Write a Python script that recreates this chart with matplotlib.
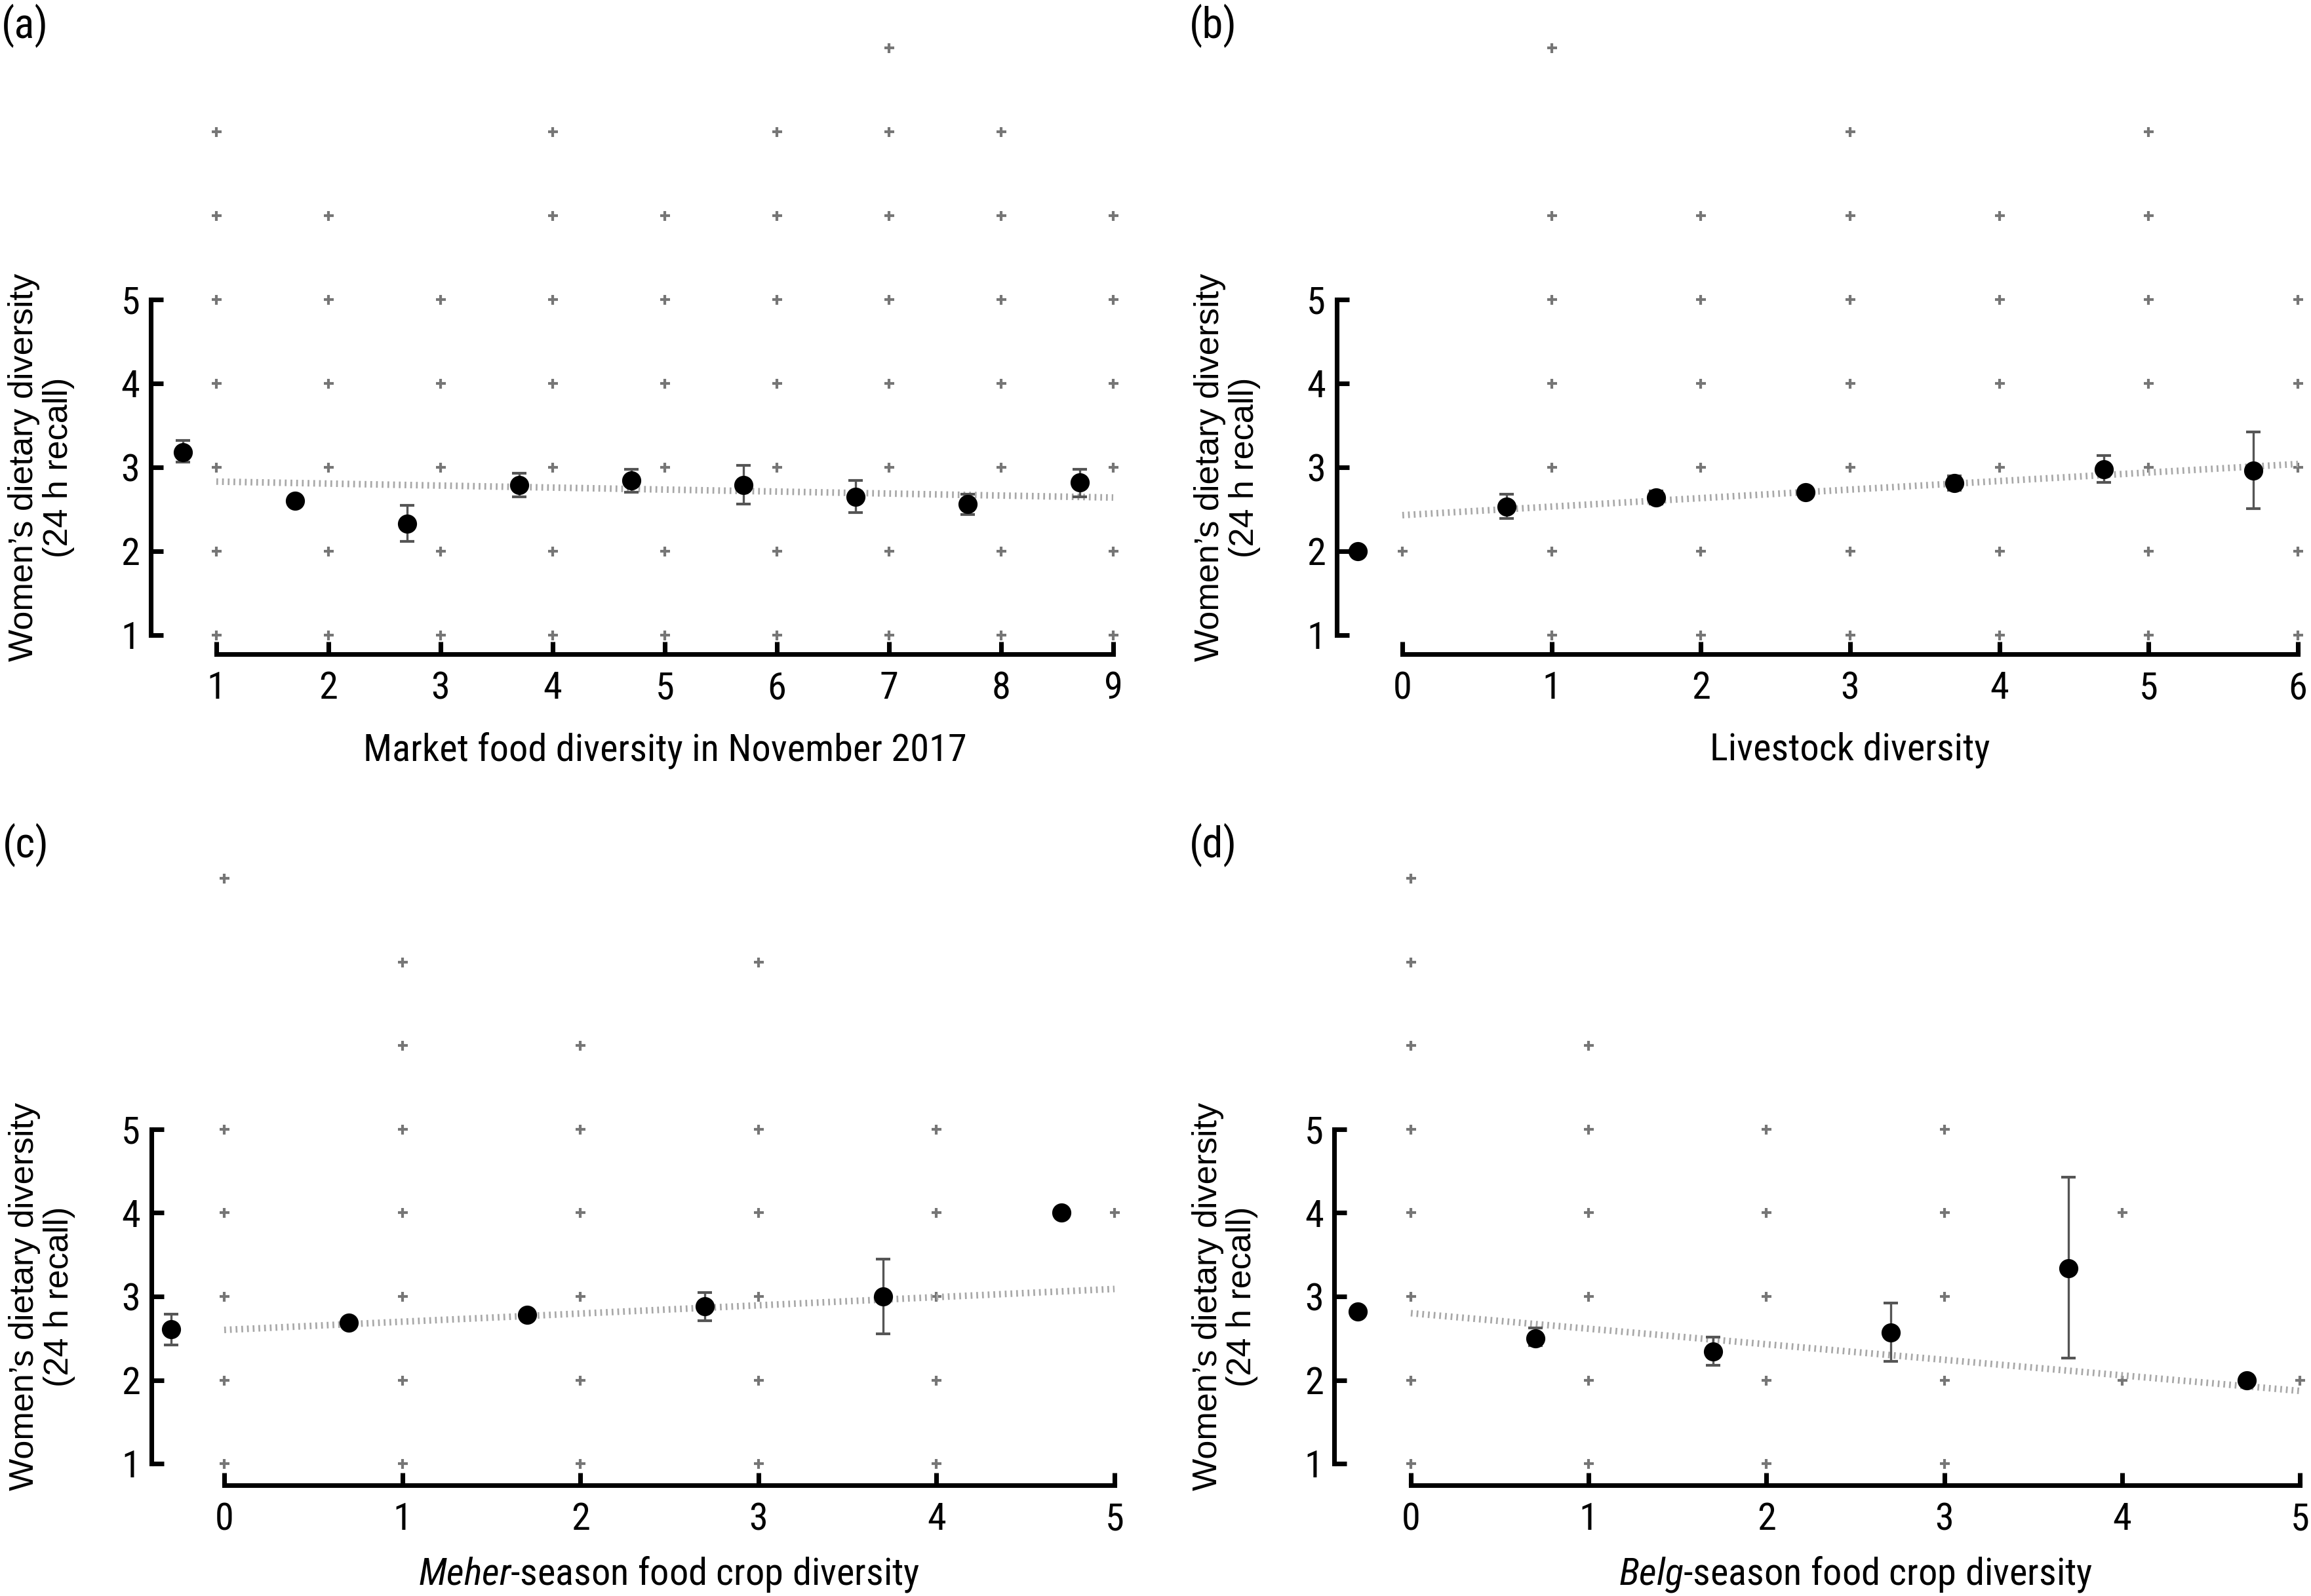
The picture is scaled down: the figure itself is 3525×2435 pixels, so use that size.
import matplotlib
matplotlib.use("Agg")
import matplotlib.pyplot as plt

# =============================================================================
# data
# =============================================================================
# (a) market food diversity
A_CATS = [1, 2, 3, 4, 5, 6, 7, 8, 9]
A_MEAN = [3.18, 2.60, 2.33, 2.79, 2.84, 2.79, 2.65, 2.56, 2.82]
A_LOW = [3.06, 2.55, 2.12, 2.65, 2.70, 2.56, 2.46, 2.44, 2.65]
A_HIGH = [3.32, 2.65, 2.55, 2.93, 2.98, 3.02, 2.84, 2.68, 2.98]
A_FIT = [2.83, 2.64]
A_OBS = {1: [1, 2, 3, 4, 5, 6, 7], 2: [1, 2, 3, 4, 5, 6], 3: [1, 2, 3, 4, 5],
         4: [1, 2, 3, 4, 5, 6, 7], 5: [1, 2, 3, 4, 5, 6],
         6: [1, 2, 3, 4, 5, 6, 7], 7: [1, 2, 3, 4, 5, 6, 7, 8],
         8: [1, 2, 3, 4, 5, 6, 7], 9: [1, 2, 3, 4, 5, 6]}

# (b) livestock diversity
B_CATS = [0, 1, 2, 3, 4, 5, 6]
B_MEAN = [2.00, 2.53, 2.64, 2.70, 2.81, 2.98, 2.96]
B_LOW = [2.00, 2.39, 2.56, 2.64, 2.73, 2.82, 2.51]
B_HIGH = [2.00, 2.68, 2.72, 2.76, 2.90, 3.14, 3.42]
B_FIT = [2.43, 3.04]
B_OBS = {0: [2], 1: [1, 2, 3, 4, 5, 6, 8], 2: [1, 2, 3, 4, 5, 6],
         3: [1, 2, 3, 4, 5, 6, 7], 4: [1, 2, 3, 4, 5, 6],
         5: [1, 2, 3, 4, 5, 6, 7], 6: [1, 2, 3, 4, 5]}

# (c) meher-season food crop diversity
C_CATS = [0, 1, 2, 3, 4, 5]
C_MEAN = [2.61, 2.69, 2.78, 2.88, 3.00, 4.00]
C_LOW = [2.42, 2.66, 2.73, 2.71, 2.55, 4.00]
C_HIGH = [2.79, 2.72, 2.83, 3.05, 3.45, 4.00]
C_FIT = [2.60, 3.09]
C_OBS = {0: [1, 2, 3, 4, 5, 8], 1: [1, 2, 3, 4, 5, 6, 7],
         2: [1, 2, 3, 4, 5, 6], 3: [1, 2, 3, 4, 5, 7],
         4: [1, 2, 3, 4, 5], 5: [4]}

# (d) belg-season food crop diversity
D_CATS = [0, 1, 2, 3, 4, 5]
D_MEAN = [2.82, 2.50, 2.34, 2.57, 3.34, 2.00]
D_LOW = [2.78, 2.41, 2.18, 2.22, 2.26, 2.00]
D_HIGH = [2.86, 2.62, 2.51, 2.92, 4.43, 2.00]
D_FIT = [2.80, 1.87]
D_OBS = {0: [1, 2, 3, 4, 5, 6, 7, 8], 1: [1, 2, 3, 4, 5, 6],
         2: [1, 2, 3, 4, 5], 3: [1, 2, 3, 4, 5], 4: [2, 4], 5: [2]}

Y_TICKS = [1, 2, 3, 4, 5]
Y_LABEL = "Women\u2019s dietary diversity\n(24 h recall)"
X_LABELS = ["Market food diversity in November 2017",
            "Livestock diversity",
            r"$\mathit{Meher}$-season food crop diversity",
            r"$\mathit{Belg}$-season food crop diversity"]
PANEL_TAGS = ["(a)", "(b)", "(c)", "(d)"]

# =============================================================================
# layout / style
# =============================================================================
W, H, DPI = 3525, 2435, 300
MEAN_SHIFT = -0.3
NARROW = ["Roboto Condensed", "Liberation Sans", "DejaVu Sans"]
REGULAR = ["Liberation Sans", "DejaVu Sans"]

plt.rcParams["font.family"] = NARROW
plt.rcParams["mathtext.fontset"] = "custom"
plt.rcParams["mathtext.rm"] = "Roboto Condensed"
plt.rcParams["mathtext.it"] = "Roboto Condensed:italic"

# pixel anchors: (value, px) for two x ticks, px of y=1 and y=5, limits
LAYOUT = [
    dict(xa=(1, 330), xb=(9, 1698), y1=969, y5=457, xlim=(0.415, 9.1), ylim=(0.77, 8.25),
         tag=(2, 6), xlab=-118),
    dict(xa=(0, 2139), xb=(6, 3505), y1=969, y5=457, xlim=(-0.44, 6.08), ylim=(0.77, 8.25),
         tag=(1814, 6), xlab=-118),
    dict(xa=(0, 342), xb=(5, 1700), y1=2233, y5=1723, xlim=(-0.41, 5.08), ylim=(0.74, 8.25),
         tag=(4, 1256), xlab=-106),
    dict(xa=(0, 2152), xb=(5, 3508), y1=2233, y5=1723, xlim=(-0.43, 5.06), ylim=(0.74, 8.25),
         tag=(1814, 1256), xlab=-106),
]


def axes_rect(lay):
    """figure rect so that data anchors land on the reference pixels"""
    (va, pa), (vb, pb) = lay["xa"], lay["xb"]
    sx = (pb - pa) / (vb - va)
    sy = (lay["y1"] - lay["y5"]) / 4.0
    left = pa + (lay["xlim"][0] - va) * sx
    right = pa + (lay["xlim"][1] - va) * sx
    bottom = lay["y1"] - (lay["ylim"][0] - 1) * sy
    top = lay["y1"] - (lay["ylim"][1] - 1) * sy
    return [left / W, 1 - bottom / H, (right - left) / W, (bottom - top) / H], right - left, bottom - top


def draw_panel(fig, lay, cats, mean, low, high, fit, obs, xlabel, tag):
    rect, wpx, hpx = axes_rect(lay)
    ax = fig.add_axes(rect)
    ax.set_xlim(*lay["xlim"])
    ax.set_ylim(*lay["ylim"])

    # raw observations as small grey pluses
    for x, ys in obs.items():
        ax.plot([x] * len(ys), ys, ls="none", marker="+", ms=3.6, mew=1.0,
                color="#767676", zorder=1, clip_on=False)

    # fitted line
    x0, x1 = cats[0], cats[-1]
    ax.plot([x0, x1], fit, color="#a8a8a8", lw=2.4, dashes=(0.27, 0.6),
            solid_capstyle="butt", dash_capstyle="butt", zorder=2)

    # means with error bars
    xs = [c + MEAN_SHIFT for c in cats]
    for x, m, lo, hi in zip(xs, mean, low, high):
        if hi - lo > 0.001:
            ax.errorbar([x], [m], yerr=[[m - lo], [hi - m]], fmt="none",
                        ecolor="#555555", elinewidth=0.8, capsize=2.7,
                        capthick=1.0, zorder=3, clip_on=False)
    ax.plot(xs, mean, ls="none", marker="o", ms=6, color="black", mec="black",
            zorder=4, clip_on=False)

    for s in ["top", "right"]:
        ax.spines[s].set_visible(False)
    ax.spines["left"].set_bounds(1, 5)
    ax.spines["bottom"].set_bounds(x0, x1)
    ax.spines["left"].set_linewidth(1.7)
    ax.spines["bottom"].set_linewidth(1.7)
    ax.set_yticks(Y_TICKS)
    ax.set_xticks(cats)
    ax.tick_params(axis="both", direction="in", length=4.6, width=1.7,
                   labelsize=14, color="black")
    ax.tick_params(axis="y", pad=4)
    ax.tick_params(axis="x", pad=6)

    ax.set_ylabel(Y_LABEL, fontsize=12.5, family=REGULAR, linespacing=1.1)
    ycen = (3 - lay["ylim"][0]) / (lay["ylim"][1] - lay["ylim"][0])
    ax.yaxis.set_label_coords(-116 / wpx, ycen)

    ax.set_xlabel(xlabel, fontsize=14)
    xcen = ((x0 + x1) / 2 - lay["xlim"][0]) / (lay["xlim"][1] - lay["xlim"][0])
    ax.xaxis.set_label_coords(xcen, lay["xlab"] / hpx)

    fig.text(tag[0] / W, 1 - tag[1] / H, PANEL_TAGS[len(fig.axes) - 1],
             ha="left", va="top", fontsize=15.5)
    return ax


def main():
    fig = plt.figure(figsize=(W / DPI, H / DPI), dpi=DPI)
    panels = [
        (A_CATS, A_MEAN, A_LOW, A_HIGH, A_FIT, A_OBS),
        (B_CATS, B_MEAN, B_LOW, B_HIGH, B_FIT, B_OBS),
        (C_CATS, C_MEAN, C_LOW, C_HIGH, C_FIT, C_OBS),
        (D_CATS, D_MEAN, D_LOW, D_HIGH, D_FIT, D_OBS),
    ]
    for lay, data, xlabel in zip(LAYOUT, panels, X_LABELS):
        draw_panel(fig, lay, *data, xlabel, lay["tag"])
    fig.savefig("out.png", dpi=DPI, facecolor="white")


if __name__ == "__main__":
    main()
